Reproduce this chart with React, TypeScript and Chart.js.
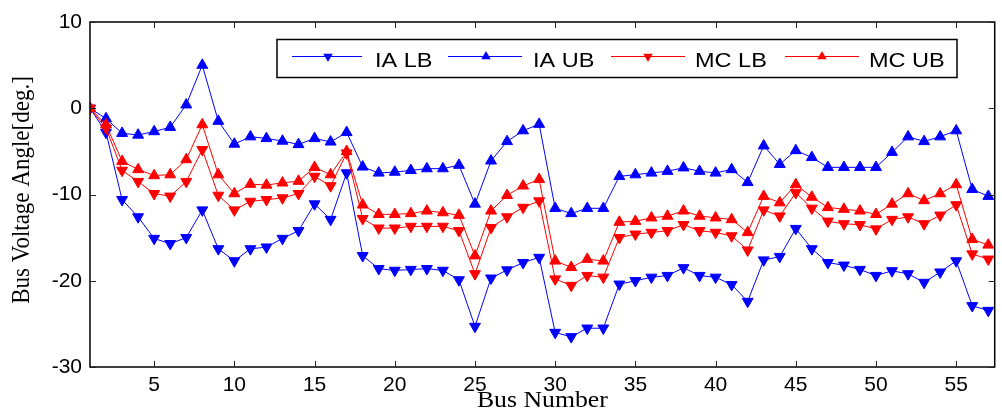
import React, { useEffect, useRef } from "react";
import { Chart, registerables } from "chart.js";

Chart.register(...registerables);

const busNumbers: number[] = Array.from({ length: 57 }, (_, i) => i + 1);

const xTickValues = [5, 10, 15, 20, 25, 30, 35, 40, 45, 50, 55];
const yTickValues = [-30, -20, -10, 0, 10];

const iaLB = [0, -2.8, -10.6, -12.6, -15.1, -15.7, -15.0, -11.8, -16.3, -17.7, -16.3, -16.1, -15.1, -14.2, -11.1, -12.9, -7.5, -17.1, -18.6, -18.8, -18.7, -18.6, -18.8, -19.9, -25.3, -19.7, -18.75, -17.9, -17.3, -26.0, -26.5, -25.5, -25.5, -20.4, -20.0, -19.6, -19.4, -18.5, -19.4, -19.6, -20.45, -22.4, -17.6, -17.2, -13.95, -16.3, -17.9, -18.2, -18.7, -19.4, -18.85, -19.2, -20.2, -19.0, -17.7, -22.9, -23.45];

const iaUB = [0, -1.2, -2.9, -3.1, -2.7, -2.2, 0.4, 5.0, -1.5, -4.15, -3.3, -3.5, -3.8, -4.2, -3.5, -3.9, -2.8, -6.8, -7.5, -7.4, -7.2, -7.0, -7.0, -6.6, -11.1, -6.1, -3.85, -2.6, -1.85, -11.6, -12.2, -11.6, -11.6, -7.9, -7.7, -7.5, -7.3, -6.9, -7.3, -7.5, -7.1, -8.6, -4.35, -6.5, -4.9, -5.7, -6.85, -6.85, -6.85, -6.85, -5.1, -3.3, -3.85, -3.3, -2.6, -9.4, -10.2];

const mcLB = [0, -2.3, -7.2, -8.5, -9.9, -10.2, -8.5, -4.8, -10.1, -11.8, -10.8, -10.6, -10.4, -9.9, -7.9, -9.0, -5.2, -12.8, -13.9, -13.9, -13.7, -13.7, -13.7, -14.2, -19.2, -13.85, -12.6, -11.5, -10.75, -19.8, -20.55, -19.4, -19.6, -15.0, -14.6, -14.4, -14.2, -13.5, -14.2, -14.4, -14.8, -16.45, -11.8, -12.5, -9.8, -11.6, -13.1, -13.4, -13.5, -14.0, -12.9, -12.6, -13.4, -12.4, -11.2, -16.9, -17.5];

const mcUB = [0, -1.9, -6.15, -7.1, -7.8, -7.7, -5.95, -1.9, -7.7, -9.9, -8.8, -8.9, -8.65, -8.45, -6.85, -7.7, -5.0, -11.2, -12.3, -12.3, -12.2, -11.9, -12.1, -12.4, -17.1, -11.9, -10.1, -9.0, -8.25, -17.7, -18.45, -17.5, -17.7, -13.2, -13.1, -12.7, -12.5, -11.9, -12.5, -12.7, -12.9, -14.4, -10.2, -10.95, -8.85, -10.3, -11.5, -11.7, -11.9, -12.3, -11.1, -9.9, -10.7, -9.9, -8.85, -15.2, -15.85];

const seriesLabels = ["IA LB", "IA UB", "MC LB", "MC UB"];
const xTitle = "Bus Number";
const yTitle = "Bus Voltage Angle[deg.]";

const BLUE = "#0000ff";
const RED = "#ff0000";

function tri(ctx: CanvasRenderingContext2D, x: number, y: number, r: number, down: boolean, color: string) {
  ctx.save();
  ctx.translate(x, y);
  if (down) ctx.rotate(Math.PI);
  ctx.beginPath();
  for (let k = 0; k < 3; k++) {
    const a = (k * 2 * Math.PI) / 3;
    const px = Math.sin(a) * r;
    const py = -Math.cos(a) * r;
    if (k === 0) ctx.moveTo(px, py);
    else ctx.lineTo(px, py);
  }
  ctx.closePath();
  ctx.fillStyle = color;
  ctx.fill();
  ctx.restore();
}

const decorPlugin = {
  id: "decor",
  afterDraw(chart: any) {
    const { ctx, chartArea } = chart;
    const { left, right, top, bottom } = chartArea;
    const xs = chart.scales.x;
    const ys = chart.scales.y;
    ctx.save();
    // frame
    ctx.strokeStyle = "#000";
    ctx.lineWidth = 1.5;
    ctx.strokeRect(left, top, right - left, bottom - top);
    // inner ticks
    ctx.lineWidth = 1;
    ctx.strokeStyle = "#222";
    ctx.beginPath();
    xTickValues.forEach((v) => {
      const px = Math.round(xs.getPixelForValue(v)) + 0.5;
      ctx.moveTo(px, bottom);
      ctx.lineTo(px, bottom - 6);
      ctx.moveTo(px, top);
      ctx.lineTo(px, top + 6);
    });
    yTickValues.forEach((v) => {
      const py = Math.round(ys.getPixelForValue(v)) + 0.5;
      ctx.moveTo(left, py);
      ctx.lineTo(left + 6, py);
      ctx.moveTo(right, py);
      ctx.lineTo(right - 6, py);
    });
    ctx.stroke();

    // axis titles
    ctx.fillStyle = "#000";
    ctx.font = '23px "Liberation Serif", "Times New Roman", serif';
    ctx.textAlign = "center";
    ctx.textBaseline = "alphabetic";
    ctx.save();
    ctx.translate((left + right) / 2, 407);
    ctx.scale(1.12, 1);
    ctx.fillText(xTitle, 0, 0);
    ctx.restore();

    ctx.save();
    ctx.translate(22.5, 190);
    ctx.scale(1.12, 1);
    ctx.rotate(-Math.PI / 2);
    ctx.textBaseline = "middle";
    ctx.fillText(yTitle, 0, 0);
    ctx.restore();

    // legend
    ctx.fillStyle = "#fff";
    ctx.fillRect(277, 39.5, 680, 38);
    ctx.strokeStyle = "#000";
    ctx.lineWidth = 1.5;
    ctx.strokeRect(277, 39.5, 680, 38);
    const entries = [
      { x0: 292, x1: 362, mx: 328, tx: 375, color: BLUE, down: true },
      { x0: 448, x1: 522, mx: 486, tx: 533, color: BLUE, down: false },
      { x0: 611, x1: 685, mx: 648, tx: 695, color: RED, down: true },
      { x0: 785, x1: 859, mx: 822, tx: 869, color: RED, down: false },
    ];
    const ly = 56.5;
    entries.forEach((e, i) => {
      ctx.strokeStyle = e.color;
      ctx.lineWidth = 1;
      ctx.beginPath();
      ctx.moveTo(e.x0, ly);
      ctx.lineTo(e.x1, ly);
      ctx.stroke();
      tri(ctx, e.mx, ly, 5.5, e.down, e.color);
      ctx.save();
      ctx.fillStyle = "#000";
      ctx.font = '21px "Liberation Sans", Arial, sans-serif';
      ctx.textAlign = "left";
      ctx.textBaseline = "alphabetic";
      ctx.translate(e.tx, 66.5);
      ctx.scale(1.12, 1);
      ctx.fillText(seriesLabels[i], 0, 0);
      ctx.restore();
    });
    ctx.restore();
  },
};

function makeDataset(label: string, vals: number[], color: string, down: boolean, order: number) {
  return {
    label,
    data: busNumbers.map((b, i) => ({ x: b, y: vals[i] })),
    borderColor: color,
    backgroundColor: color,
    borderWidth: 1,
    pointStyle: "triangle",
    pointRadius: 6.3,
    pointRotation: down ? 180 : 0,
    pointBorderWidth: 1,
    pointBorderColor: color,
    pointBackgroundColor: color,
    tension: 0,
    order,
  };
}

export default function App() {
  const ref = useRef<HTMLCanvasElement>(null);
  useEffect(() => {
    const tickFont = { family: '"Liberation Sans", Arial, sans-serif', size: 21 };
    const chart = new Chart(ref.current as HTMLCanvasElement, {
      type: "line",
      data: {
        datasets: [
          makeDataset(seriesLabels[0], iaLB, BLUE, true, 4),
          makeDataset(seriesLabels[1], iaUB, BLUE, false, 3),
          makeDataset(seriesLabels[2], mcLB, RED, true, 2),
          makeDataset(seriesLabels[3], mcUB, RED, false, 1),
        ] as any,
      },
      options: {
        responsive: false,
        animation: false,
        devicePixelRatio: 1,
        layout: { padding: { top: 22, right: 2, left: 0, bottom: 0 } },
        plugins: { legend: { display: false }, tooltip: { enabled: false } },
        scales: {
          x: {
            type: "linear",
            min: 1,
            max: 57.4,
            grid: { display: false, drawTicks: false },
            border: { display: false },
            ticks: { font: tickFont, color: "#000", padding: 6, maxRotation: 0, autoSkip: false },
            afterBuildTicks: (s: any) => {
              s.ticks = xTickValues.map((v) => ({ value: v }));
            },
            afterFit: (s: any) => {
              s.height = 45;
            },
          },
          y: {
            type: "linear",
            min: -30,
            max: 10,
            grid: { display: false, drawTicks: false },
            border: { display: false },
            ticks: { font: tickFont, color: "#000", padding: 8, autoSkip: false },
            afterBuildTicks: (s: any) => {
              s.ticks = yTickValues.map((v) => ({ value: v }));
            },
            afterFit: (s: any) => {
              s.width = 90;
            },
          },
        },
      } as any,
      plugins: [decorPlugin],
    });
    return () => chart.destroy();
  }, []);
  return (
    <div style={{ position: "fixed", left: 0, top: 0, width: 1002, height: 412, background: "#fff" }}>
      <canvas ref={ref} width={1002} height={412} style={{ display: "block" }} />
    </div>
  );
}
